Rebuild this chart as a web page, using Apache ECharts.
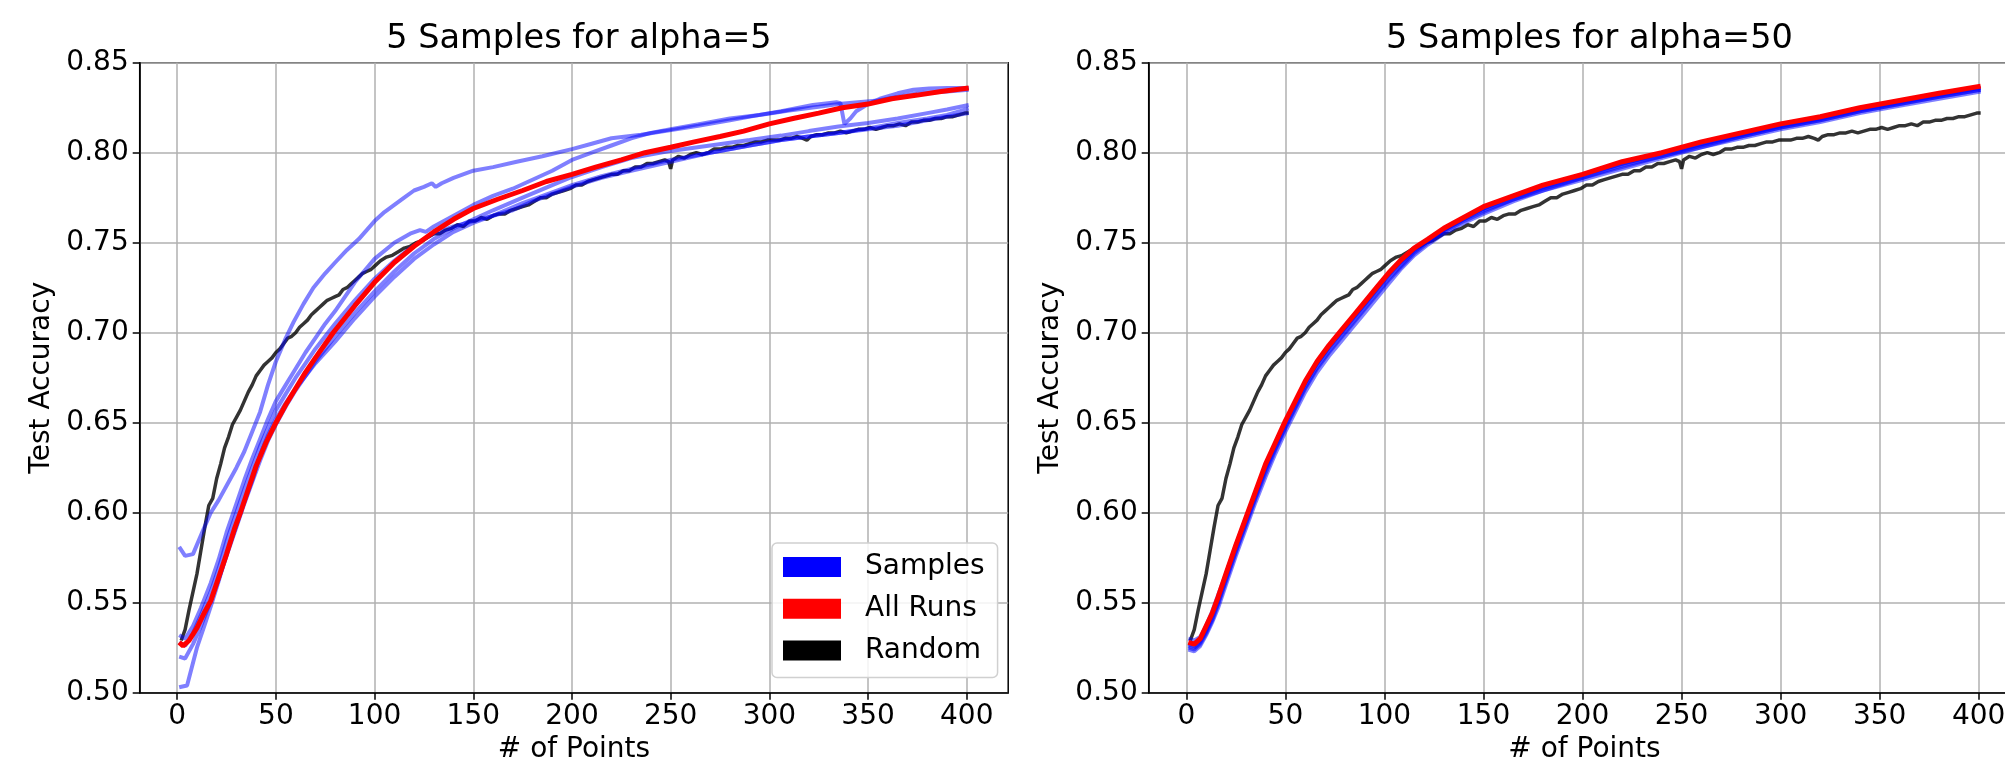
<!DOCTYPE html>
<html><head><meta charset="utf-8">
<script src="https://cdn.jsdelivr.net/npm/echarts@6/dist/echarts.min.js"></script>
<style>html,body{margin:0;padding:0;background:#fff}#c{width:2005px;height:761px}</style>
</head><body><div id="c"></div><script>
// ---------- data ----------
const titles = ['5 Samples for alpha=5', '5 Samples for alpha=50'];
const xTickValues = [0, 50, 100, 150, 200, 250, 300, 350, 400];
const legendNames = ['Samples', 'All Runs', 'Random'];

const randomRun = [[2,0.529],[4,0.535],[6,0.546],[8,0.556],[10,0.566],[12,0.579],[14,0.592],[16,0.604],[18,0.608],[20,0.619],[22,0.627],[24,0.636],[26,0.642],[28,0.649],[30,0.653],[32,0.657],[34,0.662],[36,0.667],[38,0.671],[40,0.676],[42,0.679],[44,0.682],[46,0.684],[48,0.686],[50,0.689],[52,0.691],[54,0.694],[56,0.697],[58,0.698],[60,0.700],[62,0.703],[64,0.705],[66,0.707],[68,0.710],[70,0.712],[72,0.714],[74,0.716],[76,0.718],[78,0.719],[80,0.720],[82,0.721],[84,0.724],[86,0.725],[88,0.727],[90,0.729],[92,0.731],[94,0.733],[96,0.734],[98,0.735],[100,0.737],[103,0.740],[106,0.742],[109,0.743],[112,0.745],[115,0.747],[118,0.748],[121,0.750],[124,0.751],[127,0.753],[130,0.755],[133,0.755],[136,0.757],[139,0.758],[142,0.760],[145,0.759],[148,0.762],[151,0.762],[154,0.764],[157,0.763],[160,0.765],[163,0.766],[166,0.766],[169,0.768],[172,0.769],[175,0.770],[178,0.771],[181,0.773],[184,0.775],[187,0.775],[190,0.777],[193,0.778],[196,0.779],[199,0.780],[202,0.782],[205,0.782],[208,0.784],[211,0.785],[214,0.786],[217,0.787],[220,0.788],[223,0.788],[226,0.790],[229,0.790],[232,0.792],[235,0.792],[238,0.794],[241,0.794],[244,0.795],[247,0.796],[249,0.795],[250,0.791],[251,0.796],[254,0.798],[257,0.797],[260,0.799],[263,0.800],[266,0.799],[269,0.800],[272,0.802],[275,0.802],[278,0.803],[281,0.803],[284,0.804],[287,0.804],[290,0.805],[293,0.806],[296,0.806],[299,0.807],[302,0.807],[305,0.807],[308,0.808],[311,0.808],[314,0.809],[317,0.808],[319,0.807],[321,0.809],[324,0.810],[327,0.810],[330,0.811],[333,0.811],[336,0.812],[339,0.811],[342,0.812],[345,0.813],[348,0.813],[351,0.814],[354,0.813],[357,0.814],[360,0.815],[363,0.815],[366,0.816],[369,0.815],[372,0.817],[375,0.817],[378,0.818],[381,0.818],[384,0.819],[387,0.819],[390,0.820],[393,0.820],[396,0.821],[399,0.822],[401,0.822]];

// alpha = 5
const leftAllRuns = [[1,0.528],[3,0.526],[6,0.529],[10,0.536],[14,0.545],[17,0.551],[21,0.564],[25,0.577],[29,0.591],[32,0.600],[36,0.613],[40,0.626],[45,0.639],[50,0.650],[55,0.660],[60,0.669],[65,0.678],[70,0.686],[79,0.700],[90,0.715],[100,0.728],[110,0.739],[120,0.748],[130,0.756],[140,0.763],[150,0.769],[162,0.774],[175,0.779],[187,0.784],[200,0.788],[212,0.792],[225,0.796],[237,0.800],[250,0.803],[262,0.806],[275,0.809],[287,0.812],[300,0.816],[312,0.819],[325,0.822],[337,0.825],[350,0.827],[362,0.830],[375,0.832],[387,0.834],[401,0.836]];
const leftSample1 = [[1,0.581],[4,0.576],[8,0.577],[13,0.590],[17,0.600],[21,0.607],[25,0.615],[30,0.625],[34,0.634],[38,0.645],[42,0.656],[46,0.671],[50,0.684],[55,0.697],[59,0.706],[64,0.716],[69,0.725],[75,0.733],[80,0.739],[86,0.746],[92,0.752],[96,0.757],[100,0.762],[105,0.767],[110,0.771],[115,0.775],[120,0.779],[125,0.781],[129,0.783],[131,0.781],[134,0.783],[140,0.786],[150,0.790],[160,0.792],[172,0.795],[185,0.798],[200,0.802],[210,0.805],[220,0.808],[235,0.810],[247,0.812],[264,0.815],[280,0.818],[295,0.821],[306,0.823],[322,0.8265],[334,0.828],[336,0.8275],[338,0.816],[341,0.819],[344,0.823],[350,0.827],[356,0.830],[365,0.833],[373,0.835],[381,0.8357],[390,0.836],[401,0.836]];
const leftSample2 = [[1,0.532],[4,0.530],[8,0.537],[12,0.547],[17,0.561],[21,0.574],[25,0.589],[30,0.605],[34,0.618],[38,0.630],[42,0.641],[46,0.652],[50,0.662],[55,0.671],[60,0.680],[65,0.689],[70,0.697],[75,0.705],[80,0.712],[90,0.728],[100,0.741],[110,0.750],[118,0.755],[123,0.757],[126,0.756],[130,0.759],[140,0.765],[150,0.771],[160,0.776],[170,0.780],[180,0.785],[190,0.790],[200,0.796],[210,0.800],[220,0.804],[230,0.808],[240,0.811],[250,0.813],[265,0.816],[280,0.819],[295,0.821],[310,0.8235],[325,0.8255],[335,0.827],[345,0.828],[355,0.829],[365,0.831],[375,0.833],[390,0.834],[401,0.835]];
const leftSample3 = [[1,0.520],[4,0.519],[8,0.527],[12,0.537],[17,0.551],[21,0.563],[25,0.576],[30,0.592],[34,0.605],[38,0.617],[42,0.629],[46,0.640],[50,0.649],[55,0.659],[60,0.668],[65,0.676],[70,0.684],[75,0.691],[80,0.698],[90,0.711],[100,0.723],[110,0.734],[120,0.744],[130,0.752],[140,0.758],[150,0.763],[160,0.768],[175,0.775],[190,0.782],[200,0.7865],[215,0.792],[230,0.797],[250,0.801],[270,0.804],[290,0.807],[306,0.8095],[320,0.812],[335,0.8145],[350,0.8165],[365,0.819],[380,0.822],[390,0.824],[401,0.8265]];
const leftSample4 = [[1,0.503],[5,0.504],[10,0.525],[14,0.538],[17,0.548],[21,0.562],[25,0.577],[30,0.593],[34,0.606],[38,0.618],[42,0.632],[46,0.643],[50,0.652],[55,0.661],[60,0.669],[65,0.676],[70,0.683],[80,0.695],[90,0.708],[100,0.720],[110,0.731],[120,0.741],[130,0.749],[140,0.756],[150,0.761],[160,0.765],[175,0.772],[190,0.778],[200,0.782],[215,0.787],[230,0.791],[250,0.796],[270,0.800],[290,0.804],[306,0.807],[320,0.809],[335,0.811],[350,0.8135],[365,0.8165],[380,0.819],[390,0.821],[401,0.8245]];
const leftSample5 = [[1,0.528],[4,0.526],[8,0.533],[12,0.543],[17,0.556],[21,0.569],[25,0.584],[30,0.600],[34,0.613],[38,0.625],[42,0.637],[46,0.647],[50,0.657],[55,0.666],[60,0.675],[65,0.683],[70,0.691],[75,0.698],[80,0.705],[90,0.718],[100,0.730],[110,0.740],[118,0.747],[125,0.752],[130,0.755],[140,0.759],[150,0.762],[160,0.765],[170,0.768],[180,0.773],[190,0.777],[200,0.781],[215,0.786],[230,0.790],[250,0.795],[270,0.800],[290,0.804],[306,0.807],[320,0.809],[335,0.811],[350,0.813],[365,0.815],[380,0.818],[390,0.820],[401,0.822]];

// alpha = 50
const rightX = [1,4,7,10,13,16,20,25,30,35,40,45,50,55,60,66,72,78,84,90,96,102,108,115,122,130,140,150,165,180,200,220,240,260,280,300,320,340,360,380,401];
const rightAllRuns = [0.528,0.527,0.530,0.537,0.544,0.553,0.566,0.582,0.597,0.612,0.627,0.639,0.651,0.662,0.673,0.684,0.693,0.701,0.709,0.717,0.725,0.733,0.740,0.747,0.752,0.758,0.764,0.770,0.776,0.782,0.788,0.795,0.800,0.806,0.811,0.816,0.820,0.825,0.829,0.833,0.837];
const rightSample1 = [0.526,0.525,0.528,0.534,0.541,0.550,0.563,0.579,0.594,0.609,0.624,0.636,0.648,0.659,0.670,0.681,0.690,0.698,0.706,0.714,0.722,0.730,0.737,0.745,0.751,0.757,0.763,0.768,0.774,0.780,0.786,0.793,0.798,0.804,0.809,0.814,0.818,0.823,0.827,0.831,0.835];
const rightSample2 = [0.524,0.523,0.526,0.532,0.539,0.547,0.560,0.576,0.591,0.606,0.620,0.633,0.645,0.656,0.667,0.678,0.687,0.695,0.703,0.711,0.719,0.727,0.735,0.743,0.749,0.755,0.761,0.766,0.773,0.779,0.785,0.791,0.797,0.803,0.808,0.813,0.817,0.822,0.826,0.830,0.834];
const rightSample3 = [0.530,0.529,0.531,0.537,0.545,0.554,0.566,0.582,0.597,0.611,0.626,0.638,0.650,0.661,0.672,0.683,0.692,0.700,0.708,0.716,0.724,0.732,0.739,0.746,0.752,0.757,0.764,0.769,0.776,0.781,0.788,0.794,0.800,0.805,0.810,0.815,0.819,0.824,0.828,0.832,0.836];
const rightSample4 = [0.525,0.524,0.527,0.533,0.540,0.549,0.562,0.578,0.593,0.608,0.622,0.635,0.647,0.658,0.669,0.680,0.689,0.697,0.705,0.713,0.721,0.729,0.736,0.744,0.750,0.756,0.762,0.767,0.774,0.779,0.786,0.792,0.798,0.803,0.809,0.814,0.818,0.823,0.827,0.831,0.835];
const rightSample5 = [0.527,0.526,0.529,0.535,0.543,0.552,0.565,0.581,0.596,0.611,0.625,0.638,0.650,0.661,0.672,0.683,0.692,0.700,0.708,0.716,0.724,0.732,0.739,0.746,0.751,0.757,0.763,0.769,0.775,0.781,0.787,0.794,0.799,0.805,0.810,0.815,0.819,0.824,0.828,0.832,0.836];

// ---------- chart ----------
const FONT = 'DejaVu Sans';
const pair = (xs, ys) => xs.map((x, i) => [x, ys[i]]);
const chart = echarts.init(document.getElementById('c'), null, {renderer: 'canvas'});

const grids = [
  {left: 139.7, top: 62.7, width: 868.5, height: 630},
  {left: 1148.7, top: 62.7, width: 871.6, height: 630}
];

function mkX(i) {
  return {
    type: 'value', gridIndex: i, min: -19, max: 421, splitNumber: 9,
    name: '# of Points', nameLocation: 'middle', nameGap: 42,
    nameTextStyle: {fontFamily: FONT, fontSize: 28, color: '#000'},
    axisLine: {show: true, onZero: false, lineStyle: {color: '#000', width: 1.5}},
    axisTick: {show: true, customValues: xTickValues, length: 7, lineStyle: {color: '#000', width: 1.5}},
    axisLabel: {customValues: xTickValues, fontFamily: FONT, fontSize: 28, color: '#000', margin: 10},
    splitLine: {show: true, lineStyle: {color: '#b0b0b0', width: 1.5}}
  };
}
function mkY(i) {
  return {
    type: 'value', gridIndex: i, min: 0.5, max: 0.85, interval: 0.05,
    name: 'Test Accuracy', nameLocation: 'middle', nameGap: 84, nameRotate: 90,
    nameTextStyle: {fontFamily: FONT, fontSize: 28, color: '#000'},
    axisLine: {show: true, onZero: false, lineStyle: {color: '#000', width: 1.5}},
    axisTick: {show: true, length: 7, lineStyle: {color: '#000', width: 1.5}},
    axisLabel: {fontFamily: FONT, fontSize: 28, color: '#000', margin: 11, formatter: v => v.toFixed(2)},
    splitLine: {show: true, lineStyle: {color: '#b0b0b0', width: 1.5}}
  };
}
function line(name, data, i, color, width) {
  return {
    type: 'line', name: name, xAxisIndex: i, yAxisIndex: i, data: data,
    showSymbol: false, symbol: 'none', silent: true, animation: false,
    lineStyle: {color: color, width: width}, itemStyle: {color: color}
  };
}
const blue = 'rgba(0,0,255,0.5)';
const dark = 'rgba(0,0,0,0.8)';
const series = [
  line(legendNames[2], randomRun, 0, dark, 3.5),
  line(legendNames[0], leftSample1, 0, blue, 4),
  line(legendNames[0], leftSample2, 0, blue, 4),
  line(legendNames[0], leftSample3, 0, blue, 4),
  line(legendNames[0], leftSample4, 0, blue, 4),
  line(legendNames[0], leftSample5, 0, blue, 4),
  line(legendNames[1], leftAllRuns, 0, '#ff0000', 5),
  line(legendNames[2], randomRun, 1, dark, 3.5),
  line(legendNames[0], pair(rightX, rightSample1), 1, blue, 4),
  line(legendNames[0], pair(rightX, rightSample2), 1, blue, 4),
  line(legendNames[0], pair(rightX, rightSample3), 1, blue, 4),
  line(legendNames[0], pair(rightX, rightSample4), 1, blue, 4),
  line(legendNames[0], pair(rightX, rightSample5), 1, blue, 4),
  line(legendNames[1], pair(rightX, rightAllRuns), 1, '#ff0000', 5)
];

chart.setOption({
  animation: false,
  backgroundColor: '#ffffff',
  title: titles.map((t, i) => ({
    text: t, left: grids[i].left + grids[i].width / 2, top: 17, textAlign: 'center',
    textStyle: {fontFamily: FONT, fontSize: 33.6, fontWeight: 'normal', color: '#000'}
  })),
  grid: grids.map(g => Object.assign({show: true, borderColor: '#000', borderWidth: 1.5, backgroundColor: 'transparent', containLabel: false, outerBoundsMode: 'none'}, g)),
  xAxis: [mkX(0), mkX(1)],
  yAxis: [mkY(0), mkY(1)],
  legend: {
    left: 772, top: 543, orient: 'vertical', icon: 'rect', selectedMode: false,
    itemWidth: 58, itemHeight: 20, itemGap: 11.7,
    padding: [9, 13, 12, 11],
    borderColor: '#d0d0d0', borderWidth: 1.5, borderRadius: 5,
    backgroundColor: 'rgba(255,255,255,0.85)',
    textStyle: {fontFamily: FONT, fontSize: 28, color: '#000', lineHeight: 30, padding: [0, 0, 0, 19]},
    data: [
      {name: legendNames[0], itemStyle: {color: '#0000ff', opacity: 1}},
      {name: legendNames[1], itemStyle: {color: '#ff0000', opacity: 1}},
      {name: legendNames[2], itemStyle: {color: '#000000', opacity: 1}}
    ]
  },
  series: series
});
</script></body></html>
